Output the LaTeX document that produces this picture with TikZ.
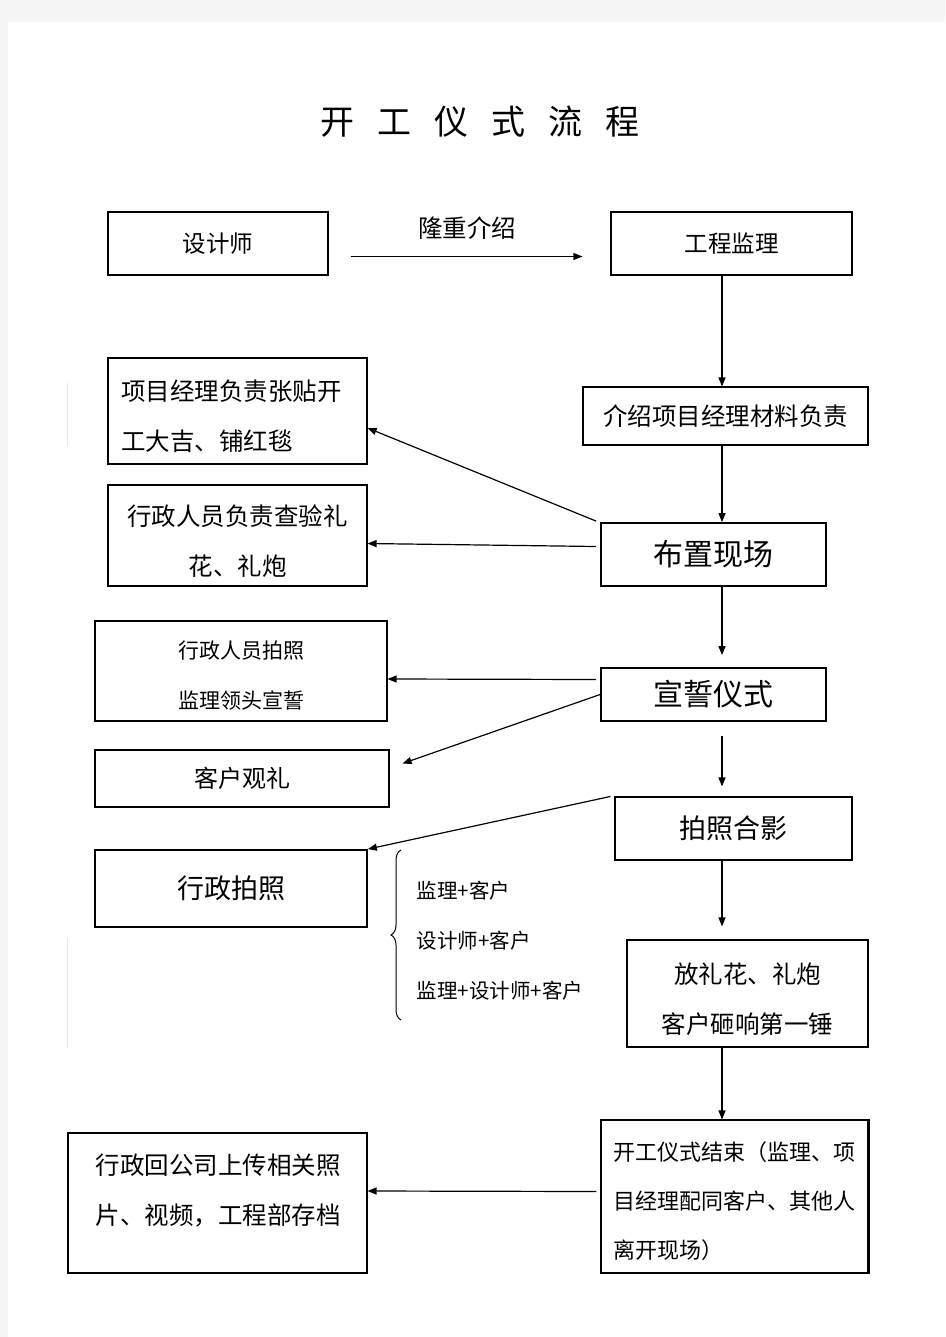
\documentclass[tikz,border=0pt]{standalone}
\usepackage{fontspec}
\setmainfont{Noto Sans CJK SC}
\usetikzlibrary{arrows.meta,decorations.pathreplacing}
\newcommand{\cnsize}[1]{\fontsize{#1}{50}\selectfont}
\newcommand{\lowstrut}{\rule{0pt}{1.3em}}
\tikzset{every picture/.style={line width=1.1pt}}
\tikzset{
  box/.style={draw, rectangle, inner sep=0pt, align=center},
  boldbox/.style={box, line width=1.8pt},
  arr/.style={-{Triangle[length=9pt,width=7pt]}, line width=1.2pt},
}

\begin{document}
\begin{tikzpicture}[x=1pt,y=1pt,yscale=-1,xscale=1]
\useasboundingbox (0,0) rectangle (945,1337);
% page
\fill[black!4] (0,0) rectangle (945,1337);
\fill[white] (8,22) rectangle (945,1337);
\draw[black!9, line width=0.8pt] (67,383) -- (67,446) (67,938) -- (67,1048);
\coordinate (spine) at (722,0);

% Text Node
\node (title) at (480,122) {\cnsize{34}开\hspace{23pt}工\hspace{23pt}仪\hspace{23pt}式\hspace{23pt}流\hspace{23pt}程};

%Shape: Rectangle
\node[box, minimum width=220pt, minimum height=63pt, font=\cnsize{23.5}] (dsgn) at (218,243.5) {设计师};
%Shape: Rectangle
\node[box, minimum width=241pt, minimum height=63pt, font=\cnsize{23.5}] (jl) at (731.5,243.5) {工程监理};
%Shape: Rectangle
\node[box, minimum width=259pt, minimum height=106pt, text width=233pt, align=left, font=\cnsize{24.5}] (proj) at (237.5,411) {\lowstrut 项目经理负责张贴开\\工大吉、铺红毯};
%Shape: Rectangle
\node[box, minimum width=285pt, minimum height=58pt, font=\cnsize{24.5}] (intro) at (725.5,416) {介绍项目经理材料负责};
%Shape: Rectangle
\node[box, minimum width=259pt, minimum height=101pt, font=\cnsize{24.5}] (chk) at (237.5,535.5) {\lowstrut 行政人员负责查验礼\\花、礼炮};
%Shape: Rectangle
\node[boldbox, minimum width=225pt, minimum height=63pt, font=\cnsize{30}] (bz) at (713.5,554.5) {布置现场};
%Shape: Rectangle
\node[box, minimum width=292pt, minimum height=100pt, font=\cnsize{21}] (photo1) at (241,671) {\lowstrut 行政人员拍照\\监理领头宣誓};
%Shape: Rectangle
\node[boldbox, minimum width=225pt, minimum height=53pt, font=\cnsize{30}] (oath) at (713.5,694.5) {宣誓仪式};
%Shape: Rectangle
\node[box, minimum width=294pt, minimum height=57pt, font=\cnsize{24}] (guest) at (242,778.5) {客户观礼};
%Shape: Rectangle
\node[box, minimum width=237pt, minimum height=63pt, font=\cnsize{27}] (photo2) at (733.5,828.5) {拍照合影};
%Shape: Rectangle
\node[boldbox, minimum width=272pt, minimum height=77pt, font=\cnsize{27}] (admin) at (231,888.5) {行政拍照};
%Shape: Rectangle
\node[box, minimum width=241pt, minimum height=107pt, font=\cnsize{24.5}] (fw) at (747.5,993.5) {\lowstrut 放礼花、礼炮\\客户砸响第一锤};
%Shape: Rectangle
\node[box, minimum width=267pt, minimum height=153pt, text width=243pt, align=left, font=\fontsize{22}{49}\selectfont] (endc) at (734.5,1196.5) {\lowstrut 开工仪式结束（监理、项\\目经理配同客户、其他人\\离开现场）};
\draw[line width=2pt] (endc.north east) -- (endc.south east);
%Shape: Rectangle
\node[box, minimum width=299pt, minimum height=140pt] (upload) at (217.5,1203) {};
% Text Node
\node[align=center, font=\cnsize{24.5}] (uploadtxt) at (218,1190) {行政回公司上传相关照\\片、视频，工程部存档};

% Text Node
\node[font=\cnsize{24.5}] (intrlbl) at (467,228) {隆重介绍};
% Text Node
\node[anchor=west, font=\cnsize{20.5}] (g1) at (413,891) {监理+客户};
% Text Node
\node[anchor=west, font=\cnsize{20.5}] (g2) at (413,941) {设计师+客户};
% Text Node
\node[anchor=west, font=\cnsize{20.5}] (g3) at (413,991) {监理+设计师+客户};
% Brace
\coordinate (bt) at (401,850);
\coordinate (bb) at (401,1020);
\draw[line width=1pt, decorate, decoration={brace, amplitude=10pt}] (bb) -- (bt);

%Straight Lines
\draw[arr, shorten <=22pt, shorten >=28pt] ([shift={(0,13)}]dsgn.east) -- ([shift={(0,13)}]jl.west);
\draw[arr] (jl.south -| spine) -- (intro.north -| spine);
\draw[arr] (intro.south -| spine) -- (bz.north -| spine);
\draw[arr] ([shift={(-4,-1)}]bz.north west) -- ([shift={(0,17)}]proj.east);
\draw[arr] ([shift={(-4,-8)}]bz.west) -- ([shift={(0,8)}]chk.east);
\draw[arr, shorten >=12pt] (bz.south -| spine) -- (oath.north -| spine);
\draw[arr] ([shift={(-4,-15)}]oath.west) -- ([shift={(0,8)}]photo1.east);
\draw[arr] (oath.west) -- ([shift={(13,-15)}]guest.east);
\draw[arr, shorten <=14pt, shorten >=10pt] (oath.south -| spine) -- (photo2.north -| spine);
\draw[arr] ([shift={(-4,0)}]photo2.north west) -- (admin.north east);
\draw[arr, shorten >=13pt] (photo2.south -| spine) -- (fw.north -| spine);
\draw[arr] (fw.south -| spine) -- (endc.north -| spine);
\draw[arr] ([shift={(-4,-5)}]endc.west) -- ([shift={(0,-12)}]upload.east);

\end{tikzpicture}
\end{document}
